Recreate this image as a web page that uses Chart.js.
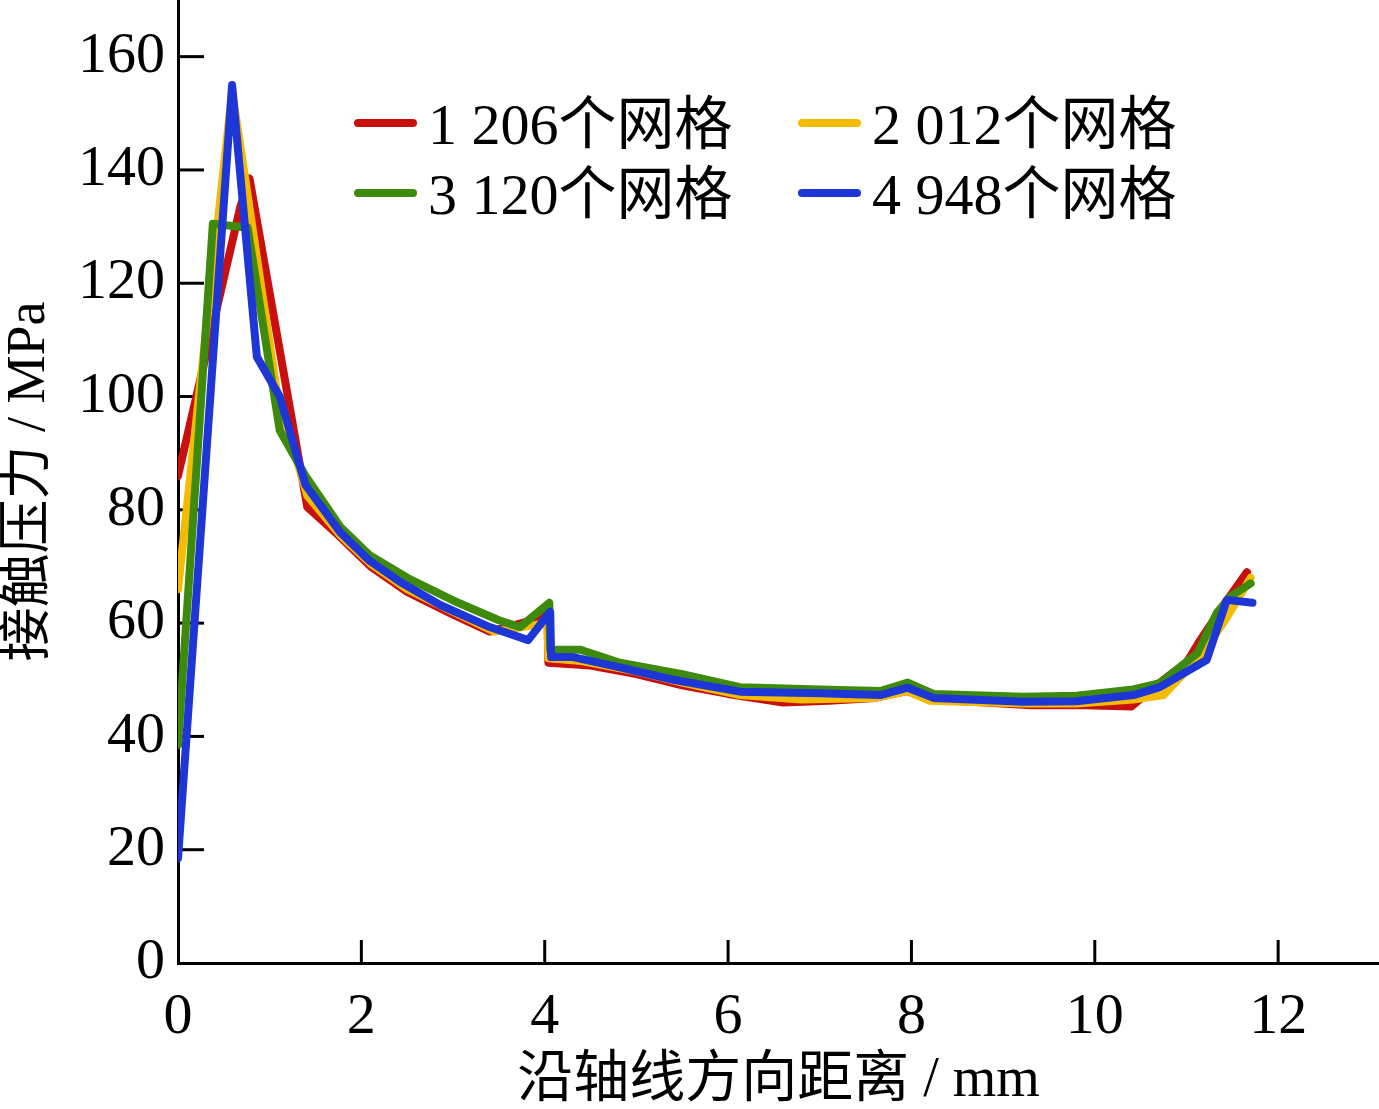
<!DOCTYPE html>
<html>
<head>
<meta charset="utf-8">
<script src="https://cdn.jsdelivr.net/npm/chart.js@4.4.0/dist/chart.umd.min.js"></script>
<style>
  html, body { margin: 0; padding: 0; background: #fff; }
  #wrap { width: 1379px; height: 1109px; }
</style>
</head>
<body>
<div id="wrap"><canvas id="chart"></canvas></div>
<script>
// series labels
const seriesNames = ["1 206个网格", "2 012个网格", "3 120个网格", "4 948个网格"];
const seriesColors = ["#c8100e", "#f4bc00", "#3d8a0c", "#1f36d6"];

// 1 206 mesh
const redX = [0, 0.68, 0.78, 1.41, 1.75, 2.1, 2.5, 3.0, 3.4, 3.8, 4.03, 4.04, 4.5, 5.0, 5.5, 6.0, 6.6, 7.1, 7.6, 7.95, 8.2, 8.8, 9.3, 9.9, 10.4, 10.75, 11.0, 11.15, 11.44, 11.66];
const redY = [86, 133.5, 138.5, 80.5, 75.5, 70, 65.5, 61.5, 58.5, 60.2, 61.5, 53, 52.5, 51, 49, 47.5, 46, 46.3, 46.8, 48, 46.5, 46, 45.5, 45.5, 45.3, 50, 53, 57, 64, 69];

// 2 012 mesh
const yellowX = [0, 0.59, 1.08, 1.41, 1.77, 2.1, 2.5, 3.0, 3.45, 3.82, 4.03, 4.04, 4.4, 5.0, 5.5, 6.13, 6.8, 7.6, 7.96, 8.2, 9.22, 9.8, 10.42, 10.75, 11.18, 11.44, 11.7];
const yellowY = [66, 154, 100.6, 82.5, 75.5, 70.5, 66, 62, 58.5, 59.5, 60, 53.8, 53.3, 51.5, 49.5, 47.3, 46.5, 46.8, 48, 46.3, 45.8, 45.8, 46.5, 47.3, 54.7, 61, 68];

// 3 120 mesh
const greenX = [0, 0.38, 0.76, 1.11, 1.39, 1.77, 2.09, 2.5, 3.0, 3.5, 3.73, 4.05, 4.06, 4.39, 4.82, 5.5, 6.13, 7.0, 7.66, 7.96, 8.24, 9.22, 9.8, 10.42, 10.71, 11.12, 11.33, 11.48, 11.7];
const greenY = [38.5, 130.5, 129.8, 94, 86, 77, 72, 68, 64, 60.5, 59.3, 63.6, 55.3, 55.3, 53, 51, 48.7, 48.3, 48, 49.5, 47.5, 47, 47.2, 48.3, 49.4, 54.7, 61.8, 64.7, 67];

// 4 948 mesh
const blueX = [0, 0.59, 0.86, 1.11, 1.39, 1.77, 2.09, 2.42, 2.86, 3.4, 3.82, 4.06, 4.07, 4.31, 4.82, 5.4, 6.13, 7.0, 7.66, 7.96, 8.24, 9.22, 9.8, 10.42, 10.71, 11.22, 11.44, 11.72];
const blueY = [18.5, 155, 107, 100, 84.4, 76, 71, 67.3, 63.2, 59.3, 57, 62, 54, 54, 52.2, 50, 47.9, 47.6, 47.3, 48.6, 46.8, 46.1, 46.2, 47.3, 48.7, 53.5, 64.1, 63.6];

const xTicks = [0, 2, 4, 6, 8, 10, 12];
const yTicks = [0, 20, 40, 60, 80, 100, 120, 140, 160];

const serif = "'Liberation Serif', 'Times New Roman', 'Noto Sans CJK SC', serif";

const allX = [redX, yellowX, greenX, blueX];
const allY = [redY, yellowY, greenY, blueY];
const datasets = seriesNames.map((name, i) => ({
  label: name,
  data: allX[i].map((x, j) => ({ x: x, y: allY[i][j] })),
  borderColor: seriesColors[i],
  backgroundColor: seriesColors[i],
  borderWidth: 8,
  pointRadius: 0,
  tension: 0,
  borderJoinStyle: "round",
  borderCapStyle: "round",
  order: 3 - i,
}));

// short inward tick marks
const innerTicks = {
  id: "innerTicks",
  beforeDatasetsDraw(chart) {
    const ctx = chart.ctx;
    const xs = chart.scales.x, ys = chart.scales.y;
    const area = chart.chartArea;
    ctx.save();
    ctx.strokeStyle = "#000";
    ctx.lineWidth = 3;
    yTicks.forEach((v) => {
      if (v === 0) return;
      const py = ys.getPixelForValue(v);
      ctx.beginPath();
      ctx.moveTo(area.left, py);
      ctx.lineTo(area.left + 26, py);
      ctx.stroke();
    });
    xTicks.forEach((v) => {
      if (v === 0) return;
      const px = xs.getPixelForValue(v);
      ctx.beginPath();
      ctx.moveTo(px, area.bottom);
      ctx.lineTo(px, area.bottom - 23);
      ctx.stroke();
    });
    ctx.restore();
  },
};

// legend drawn inside the plot, two columns
const innerLegend = {
  id: "innerLegend",
  afterDraw(chart) {
    const ctx = chart.ctx;
    const cols = [358, 802];
    const rows = [125, 195];
    ctx.save();
    ctx.font = "58px " + serif;
    ctx.textBaseline = "middle";
    ctx.fillStyle = "#000";
    chart.data.datasets.forEach((ds, i) => {
      const x = cols[i % 2], y = rows[Math.floor(i / 2)];
      ctx.strokeStyle = ds.borderColor;
      ctx.lineWidth = 8;
      ctx.lineCap = "round";
      ctx.beginPath();
      ctx.moveTo(x, y - 2);
      ctx.lineTo(x + 55, y - 2);
      ctx.stroke();
      ctx.fillText(ds.label, x + 70, y + 4);
    });
    ctx.restore();
  },
};

new Chart(document.getElementById("chart"), {
  type: "line",
  data: { datasets: datasets },
  plugins: [innerTicks, innerLegend],
  options: {
    responsive: true,
    maintainAspectRatio: false,
    animation: false,
    layout: { padding: 0 },
    plugins: { legend: { display: false }, tooltip: { enabled: false } },
    scales: {
      x: {
        type: "linear",
        min: 0,
        max: 13.1,
        afterBuildTicks: (s) => { s.ticks = xTicks.map((v) => ({ value: v })); },
        afterFit: (s) => { s.height = 146; s.paddingLeft = 0; s.paddingRight = 0; },
        grid: { display: false, drawTicks: false },
        border: { display: true, color: "#000", width: 3 },
        ticks: { color: "#000", padding: 20, maxRotation: 0, font: { family: serif, size: 58 } },
        title: {
          display: true,
          text: "沿轴线方向距离 / mm",
          color: "#000",
          font: { family: serif, size: 56, lineHeight: 1 },
          padding: { top: 0, bottom: 0 },
        },
      },
      y: {
        min: 0,
        max: 170,
        afterBuildTicks: (s) => { s.ticks = yTicks.map((v) => ({ value: v })); },
        afterFit: (s) => { s.width = 178; s.paddingTop = 0; s.paddingBottom = 0; },
        grid: { display: false, drawTicks: false },
        border: { display: true, color: "#000", width: 3 },
        ticks: { color: "#000", padding: 13, font: { family: serif, size: 58 } },
        title: {
          display: true,
          text: "接触压力 / MPa",
          color: "#000",
          font: { family: serif, size: 54, lineHeight: 1 },
          padding: { top: 3, bottom: 0 },
        },
      },
    },
  },
});
</script>
</body>
</html>
